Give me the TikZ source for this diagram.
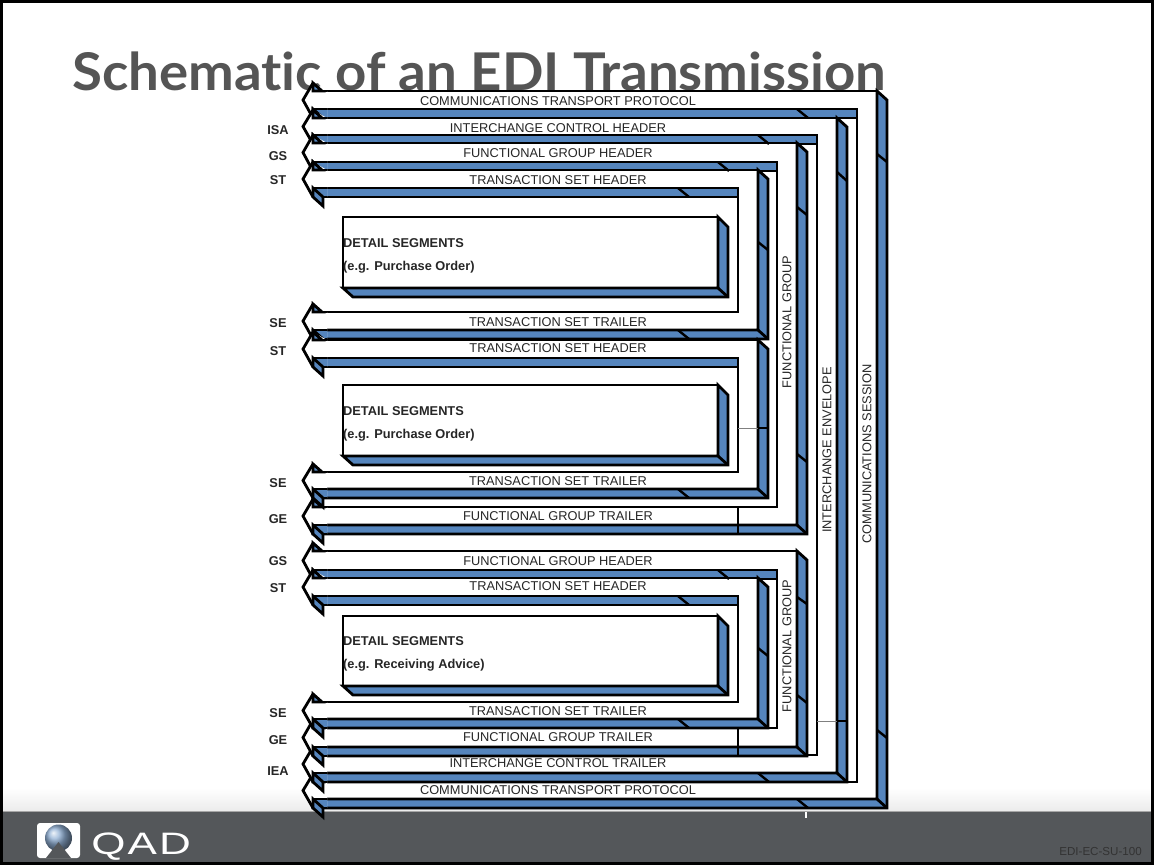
\documentclass[tikz,border=0pt]{standalone}
\usepackage{fontspec}
\setmainfont{Liberation Sans}
\newfontfamily\titlefont[Ligatures=NoCommon]{Lato}
\usepackage{tikz}
\definecolor{bandblue}{HTML}{5585BD}
\definecolor{footgray}{HTML}{54575A}
\definecolor{titlegray}{HTML}{555555}
% y1 top of upper strip, y2 its foot, y3 top of lower strip, y4 its foot
\newcommand{\Bracket}[6]{%
	\filldraw[BandEdge,fill=white] (313,#1) -- (#6,#1) -- (#6,#4) -- (313,#4) -- (313,#3) -- (#5,#3) -- (#5,#2) -- (313,#2) -- cycle;
	\filldraw[BandEdge,fill=bandblue] (313,#2) -- (#5,#2) -- (#5,#2+9) -- (313,#2+9) -- cycle;
	\filldraw[BandEdge,fill=bandblue] (#6,#1) -- (#6+10,#1+9) -- (#6+10,#4+9) -- (313,#4+9) -- (313,#4) -- (#6,#4) -- cycle;
	\draw[BandEdge] (#6,#4) -- (#6+10,#4+9);
	\draw[BandEdge] (#5,#2+9) -- (#5,#3);
}
\newcommand{\LeftEnd}[2]{%
	\fill[white] (313,#1-8) -- (303,{(#1+#2)/2}) -- (313,#2+9) -- (327,#2+9) -- (327,#1) -- cycle;
	\fill[bandblue] (313,#2) rectangle (327,#2+9);
	\draw[BandEdge] (327,#2) -- (313,#2);
	\draw[BandEdge] (327,#2+9) -- (313,#2+9);
	\filldraw[BandEdge,fill=bandblue] (313,#1-8) -- (322,#1) -- (313,#1) -- cycle;
	\filldraw[BandEdge,fill=bandblue] (313,#2) -- (323,#2+9) -- (323,#2+18) -- (313,#2+9) -- cycle;
	\draw[BandEdge] (327,#1) -- (313,#1);
	\draw[BandEdge] (313,#1-8) -- (303,{(#1+#2)/2}) -- (313,#2+9);
}
\newcommand{\DetailBox}[2]{%
	\filldraw[BandEdge,fill=white] (343,#1) rectangle (718,#2);
	\filldraw[BandEdge,fill=bandblue] (718,#1) -- (728,#1+10) -- (728,#2+9) -- (353,#2+9) -- (343,#2) -- (718,#2) -- cycle;
	\draw[BandEdge] (718,#2) -- (728,#2+9);
}
\begin{document}
\begin{tikzpicture}[x=1pt,y=-1pt]
	\tikzstyle{BandEdge}=[black,line width=2.8pt,line join=miter]
	\tikzstyle{TickEdge}=[black,line width=2.4pt]
	\tikzstyle{StripLabel}=[font=\fontsize{12.8}{14}\selectfont,inner sep=0pt,text=black!85]
	\tikzstyle{SegLabel}=[font=\fontsize{12.8}{14}\selectfont\bfseries,inner sep=0pt,text=black!85]
	\tikzstyle{DetailLabel}=[font=\fontsize{12.8}{14}\selectfont\bfseries,inner sep=0pt,anchor=west,text=black!85]
	\useasboundingbox (0,0) rectangle (1154,865);
	% page and footer
	\fill[white] (0,0) rectangle (1154,865);
	\fill[top color=white,bottom color=black!8] (2,788) rectangle (1152,812);
	\fill[footgray] (2,812) rectangle (1152,863);
	\draw[black!35,line width=1pt] (2,811.5) -- (1152,811.5);
	\draw[white,line width=2pt] (806,812) -- (806,818);
	\draw[black,line width=3pt] (1.5,1.5) rectangle (1152.5,863.5);
	\node[anchor=base west,inner sep=0pt,text=titlegray,xscale=1.05,font=\titlefont\bfseries\fontsize{52}{54}\selectfont] (title) at (72,90) {Schematic of an EDI Transmission};
	% logo
	\fill[white,rounded corners=3pt] (37,823) rectangle (80,858);
	\shade[ball color=bandblue!65!white] (58.5,838) circle (13.5);
	\fill[footgray] (46,858) -- (58.5,842) -- (71,858) -- cycle;
	\node[anchor=base west,inner sep=0pt,text=white,xscale=1.42,font=\fontsize{31}{31}\selectfont] (logo) at (91,854) {Q\hspace{1.5pt}A\hspace{1.5pt}D};
	\node[anchor=base east,inner sep=0pt,text=black!80,font=\fontsize{11.6}{13}\selectfont] (code) at (1142,855) {EDI-EC-SU-100};
	% nested brackets, outer first
	\Bracket{91}{109}{782}{799}{857}{877}
	\Bracket{118}{135}{755}{773}{817}{837}
	\Bracket{143}{162}{507}{525}{777}{797}
	\Bracket{170}{188}{312}{330}{738}{758}
	\Bracket{340}{358}{472}{489}{738}{758}
	\Bracket{551}{570}{728}{747}{777}{797}
	\Bracket{578}{596}{702}{719}{738}{758}
	\DetailBox{217}{288}
	\DetailBox{385}{456}
	\DetailBox{616}{686}
	% ticks on the shaded faces
	\draw[TickEdge] (797,109) -- (808,118);
	\draw[TickEdge] (758,135) -- (769,144);
	\draw[TickEdge] (718,162) -- (729,171);
	\draw[TickEdge] (678,188) -- (689,197);
	\draw[TickEdge] (678,330) -- (689,339);
	\draw[TickEdge] (678,489) -- (689,498);
	\draw[TickEdge] (718,570) -- (729,579);
	\draw[TickEdge] (678,596) -- (689,605);
	\draw[TickEdge] (678,719) -- (689,728);
	\draw[TickEdge] (758,773) -- (769,782);
	\draw[TickEdge] (797,799) -- (808,808);
	\draw[TickEdge] (877,154) -- (887,162);
	\draw[TickEdge] (837,172) -- (847,181);
	\draw[TickEdge] (797,207) -- (807,215);
	\draw[TickEdge] (758,242) -- (768,250);
	\draw[TickEdge] (797,454) -- (807,462);
	\draw[TickEdge] (797,597) -- (807,604);
	\draw[TickEdge] (758,648) -- (768,656);
	\draw[TickEdge] (797,695) -- (807,703);
	\draw[TickEdge] (877,730) -- (887,738);
	\draw[black!50,line width=1pt] (738,428) -- (758,428);
	\draw[TickEdge] (758,428) -- (768,428);
	\draw[black!50,line width=1pt] (817,721) -- (837,721);
	\draw[TickEdge] (837,721) -- (847,721);
	\draw[black,line width=1.2pt] (738,507) -- (738,534);
	\draw[black,line width=1.2pt] (738,728) -- (738,756);
	\draw[BandEdge] (738,525) -- (738,534);
	\draw[BandEdge] (738,747) -- (738,756);
	% strip ends, order decides which corner lies on top
	\LeftEnd{91}{109}
	\LeftEnd{118}{135}
	\LeftEnd{143}{162}
	\LeftEnd{170}{188}
	\LeftEnd{312}{330}
	\LeftEnd{340}{358}
	\LeftEnd{507}{525}
	\LeftEnd{472}{489}
	\LeftEnd{551}{570}
	\LeftEnd{578}{596}
	\LeftEnd{782}{799}
	\LeftEnd{755}{773}
	\LeftEnd{728}{747}
	\LeftEnd{702}{719}
	% strip labels
	\node[StripLabel] (CTPtop) at (558,101) {COMMUNICATIONS TRANSPORT PROTOCOL};
	\node[StripLabel] (ICH) at (558,128) {INTERCHANGE CONTROL HEADER};
	\node[StripLabel] (FGHa) at (558,153) {FUNCTIONAL GROUP HEADER};
	\node[StripLabel] (TSHa) at (558,180) {TRANSACTION SET HEADER};
	\node[StripLabel] (TSTa) at (558,322) {TRANSACTION SET TRAILER};
	\node[StripLabel] (TSHb) at (558,348) {TRANSACTION SET HEADER};
	\node[StripLabel] (TSTb) at (558,481) {TRANSACTION SET TRAILER};
	\node[StripLabel] (FGTa) at (558,516) {FUNCTIONAL GROUP TRAILER};
	\node[StripLabel] (FGHb) at (558,561) {FUNCTIONAL GROUP HEADER};
	\node[StripLabel] (TSHc) at (558,586) {TRANSACTION SET HEADER};
	\node[StripLabel] (TSTc) at (558,711) {TRANSACTION SET TRAILER};
	\node[StripLabel] (FGTb) at (558,737) {FUNCTIONAL GROUP TRAILER};
	\node[StripLabel] (ICT) at (558,763) {INTERCHANGE CONTROL TRAILER};
	\node[StripLabel] (CTPbot) at (558,790) {COMMUNICATIONS TRANSPORT PROTOCOL};
	\node[StripLabel,rotate=90] (FGa) at (787,322) {FUNCTIONAL GROUP};
	\node[StripLabel,rotate=90] (FGb) at (787,646) {FUNCTIONAL GROUP};
	\node[StripLabel,rotate=90] (ENV) at (827,450) {INTERCHANGE ENVELOPE};
	\node[StripLabel,rotate=90] (SES) at (867,454) {COMMUNICATIONS SESSION};
	% segment names
	\node[SegLabel] (ISA) at (278,130) {ISA};
	\node[SegLabel] (GSa) at (278,156) {GS};
	\node[SegLabel] (STa) at (278,180) {ST};
	\node[SegLabel] (SEa) at (278,323) {SE};
	\node[SegLabel] (STb) at (278,351) {ST};
	\node[SegLabel] (SEb) at (278,483) {SE};
	\node[SegLabel] (GEa) at (278,519) {GE};
	\node[SegLabel] (GSb) at (278,561) {GS};
	\node[SegLabel] (STc) at (278,588) {ST};
	\node[SegLabel] (SEc) at (278,713) {SE};
	\node[SegLabel] (GEb) at (278,740) {GE};
	\node[SegLabel] (IEA) at (278,771) {IEA};
	% box texts
	\node[DetailLabel] (DSa) at (343,243) {DETAIL SEGMENTS};
	\node[DetailLabel] (EGa) at (343,267) {(e.g. Purchase Order)};
	\node[DetailLabel] (DSb) at (343,411) {DETAIL SEGMENTS};
	\node[DetailLabel] (EGb) at (343,435) {(e.g. Purchase Order)};
	\node[DetailLabel] (DSc) at (343,641) {DETAIL SEGMENTS};
	\node[DetailLabel] (EGc) at (343,665) {(e.g. Receiving Advice)};
\end{tikzpicture}
\end{document}
